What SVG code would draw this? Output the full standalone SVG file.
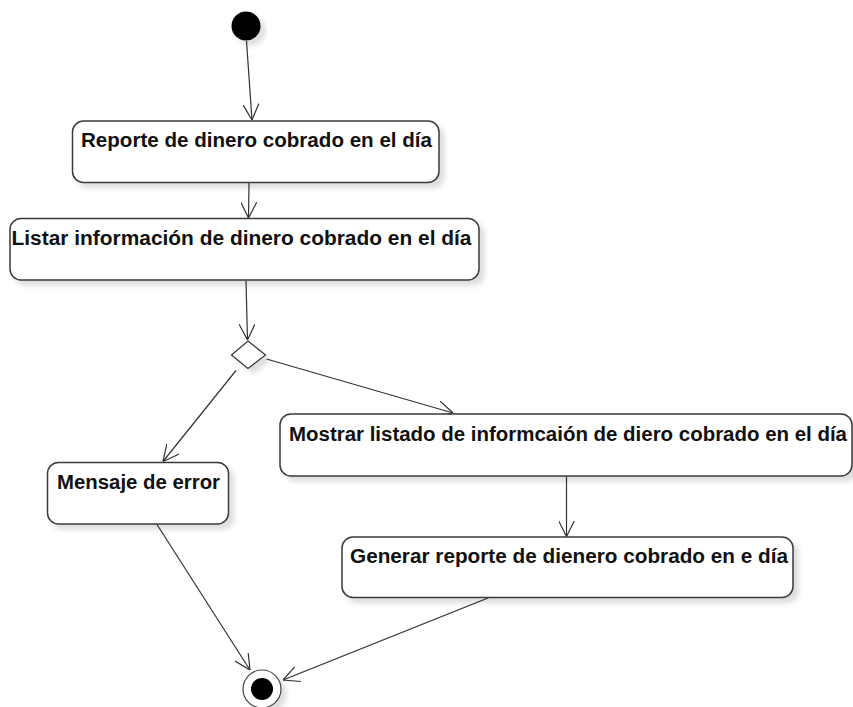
<svg xmlns="http://www.w3.org/2000/svg" width="853" height="707" viewBox="0 0 853 707">
<style>
.box{fill:#fff;stroke:#3a3a3a;stroke-width:1.5}
.lbl{font-family:"Liberation Sans",Arial,sans-serif;font-weight:bold;font-size:20px;fill:#111}
.edge{fill:none;stroke:#333;stroke-width:1.2}
</style>
<defs>
<filter id="sh" x="-20%" y="-20%" width="140%" height="150%">
<feDropShadow dx="5" dy="5" stdDeviation="2.5" flood-color="#000" flood-opacity="0.13"/>
</filter>
<marker id="arr" viewBox="0 0 16 16" refX="16" refY="8" markerWidth="16" markerHeight="16" markerUnits="userSpaceOnUse" orient="auto">
<path d="M0,0 L16,8 L0,16" fill="none" stroke="#333" stroke-width="1.2"/>
</marker>
</defs>
<rect width="853" height="707" fill="#fff"/>
<g id="connectors">
<line class="edge" x1="246.5" y1="41" x2="252" y2="120" marker-end="url(#arr)"/>
<line class="edge" x1="249" y1="183" x2="248.5" y2="218" marker-end="url(#arr)"/>
<line class="edge" x1="246" y1="281" x2="247.5" y2="340" marker-end="url(#arr)"/>
<line class="edge" x1="236" y1="370.5" x2="163" y2="461.5" marker-end="url(#arr)"/>
<line class="edge" x1="266.5" y1="359" x2="453" y2="413" marker-end="url(#arr)"/>
<line class="edge" x1="566.5" y1="476.5" x2="566.5" y2="536.5" marker-end="url(#arr)"/>
<line class="edge" x1="157" y1="524.5" x2="250" y2="670" marker-end="url(#arr)"/>
<line class="edge" x1="488" y1="598" x2="283" y2="680" marker-end="url(#arr)"/>
</g>
<g id="start">
<circle cx="246" cy="26" r="14.5" fill="#000" filter="url(#sh)"/>
</g>
<g id="n1">
<rect class="box" x="72.5" y="121" width="366.5" height="61.5" rx="11" filter="url(#sh)"/>
<text class="lbl" x="81" y="147" textLength="351" lengthAdjust="spacingAndGlyphs">Reporte de dinero cobrado en el día</text>
</g>
<g id="n2">
<rect class="box" x="10" y="218.5" width="469" height="61.5" rx="11" filter="url(#sh)"/>
<text class="lbl" x="11.5" y="245" textLength="460" lengthAdjust="spacingAndGlyphs">Listar información de dinero cobrado en el día</text>
</g>
<g id="decision">
<polygon points="248,341 265.5,355 248,368.5 231.5,355" fill="#fff" stroke="#333" stroke-width="1.2" filter="url(#sh)"/>
</g>
<g id="n3">
<rect class="box" x="47.5" y="462.5" width="181" height="61.5" rx="11" filter="url(#sh)"/>
<text class="lbl" x="57" y="489" textLength="163" lengthAdjust="spacingAndGlyphs">Mensaje de error</text>
</g>
<g id="n4">
<rect class="box" x="280" y="414" width="572" height="62" rx="11" filter="url(#sh)"/>
<text class="lbl" x="289" y="441" textLength="558" lengthAdjust="spacingAndGlyphs">Mostrar listado de informcaión de diero cobrado en el día</text>
</g>
<g id="n5">
<rect class="box" x="342" y="537" width="451" height="60.5" rx="11" filter="url(#sh)"/>
<text class="lbl" x="350" y="563" textLength="438" lengthAdjust="spacingAndGlyphs">Generar reporte de dienero cobrado en e día</text>
</g>
<g id="end">
<circle cx="262" cy="689" r="19" fill="#fff" stroke="#444" stroke-width="1.2" filter="url(#sh)"/>
<circle cx="262" cy="689" r="11" fill="#000"/>
</g>
</svg>
